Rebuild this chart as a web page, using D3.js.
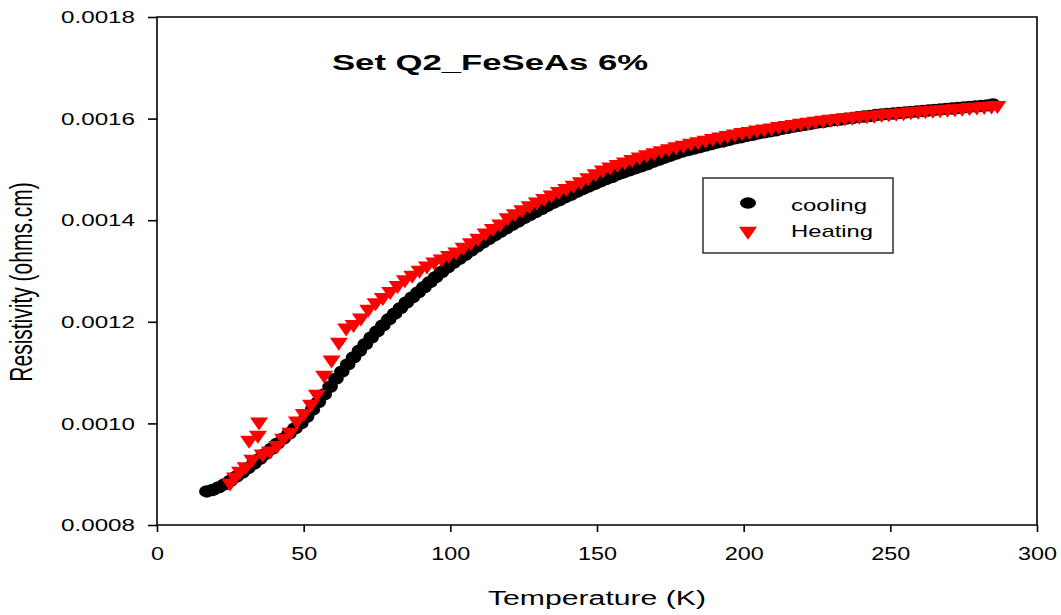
<!DOCTYPE html>
<html><head><meta charset="utf-8">
<script src="https://cdn.jsdelivr.net/npm/d3@7"></script>
<style>body{margin:0;background:#fff;}svg{display:block;font-family:"Liberation Sans",Arial,sans-serif;}</style>
</head><body>
<svg id="c" width="1061" height="615"></svg>
<script>
// ---- data (T in K, resistivity in ohms.cm) ----
const coolingT = [17,19,21,23,25,27,29,31,33,35,37,39,41,43,45,47,49,51,53,55,57,59,61,63,65,67,69,71,73,75,77,79,81,83,85,87,89,91,93,95,97,99,101,103,105,107,109,111,113,115,117,119,121,123,125,127,129,131,133,135,137,139,141,143,145,147,149,151,153,155,157,159,161,163,165,167,169,171,173,175,177,179,181,183,185,187,189,191,193,195,197,199,201,203,205,207,209,211,213,215,217,219,221,223,225,227,229,231,233,235,237,239,241,243,245,247,249,251,253,255,257,259,261,263,265,267,269,271,273,275,277,279,281,283,285];
const coolingR = [0.000866,0.000869,0.000874,0.000880,0.000887,0.000895,0.000903,0.000912,0.000921,0.000930,0.000940,0.000950,0.000960,0.000970,0.000980,0.000990,0.001000,0.001013,0.001027,0.001042,0.001057,0.001072,0.001088,0.001102,0.001116,0.001130,0.001143,0.001156,0.001169,0.001181,0.001193,0.001205,0.001216,0.001227,0.001238,0.001248,0.001258,0.001268,0.001278,0.001288,0.001298,0.001307,0.001316,0.001324,0.001332,0.001340,0.001348,0.001356,0.001363,0.001370,0.001377,0.001384,0.001391,0.001397,0.001404,0.001410,0.001416,0.001422,0.001428,0.001434,0.001439,0.001445,0.001450,0.001456,0.001461,0.001466,0.001471,0.001476,0.001481,0.001485,0.001490,0.001494,0.001498,0.001502,0.001506,0.001510,0.001515,0.001519,0.001523,0.001527,0.001531,0.001535,0.001538,0.001541,0.001544,0.001547,0.001550,0.001553,0.001555,0.001558,0.001561,0.001563,0.001566,0.001568,0.001571,0.001573,0.001575,0.001577,0.001580,0.001582,0.001584,0.001586,0.001588,0.001590,0.001592,0.001593,0.001595,0.001597,0.001598,0.001600,0.001601,0.001603,0.001604,0.001605,0.001607,0.001608,0.001609,0.001610,0.001611,0.001612,0.001613,0.001614,0.001615,0.001616,0.001617,0.001618,0.001619,0.001620,0.001621,0.001622,0.001623,0.001624,0.001625,0.001626,0.001628];
const heatingT = [24.9,26.6,28.3,30.2,31.4,32.5,34.4,34.8,36.0,38.5,41.0,43.0,45.4,47.7,50.0,52.5,54.5,57.0,59.5,62.0,64.5,67.0,69.5,72.0,74.5,77.0,79.5,82.0,84.5,87.0,89.5,92.0,94.5,97.0,99.5,102.0,104.5,107.0,109.5,112.0,114.5,117.0,119.5,122.0,124.5,127.0,129.5,132.0,134.5,137.0,139.5,142.0,144.5,147.0,149.5,152.0,154.5,157.0,159.5,162.0,164.5,167.0,169.5,172.0,174.5,177.0,179.5,182.0,184.5,187.0,189.5,192.0,194.5,197.0,199.5,202.0,204.5,207.0,209.5,212.0,214.5,217.0,219.5,222.0,224.5,227.0,229.5,232.0,234.5,237.0,239.5,242.0,244.5,247.0,249.5,252.0,254.5,257.0,259.5,262.0,264.5,267.0,269.5,272.0,274.5,277.0,279.5,282.0,284.5,286.5];
const heatingR = [0.000883,0.000895,0.000906,0.000915,0.000967,0.000930,0.000977,0.001003,0.000940,0.000946,0.000957,0.000971,0.000983,0.001005,0.001020,0.001038,0.001058,0.001095,0.001125,0.001160,0.001188,0.001195,0.001208,0.001225,0.001238,0.001248,0.001260,0.001272,0.001283,0.001292,0.001302,0.001310,0.001318,0.001324,0.001331,0.001338,0.001347,0.001356,0.001365,0.001375,0.001384,0.001393,0.001405,0.001413,0.001421,0.001429,0.001436,0.001443,0.001450,0.001457,0.001463,0.001469,0.001476,0.001484,0.001492,0.001499,0.001505,0.001510,0.001515,0.001520,0.001525,0.001529,0.001533,0.001537,0.001541,0.001545,0.001548,0.001552,0.001555,0.001558,0.001561,0.001564,0.001567,0.001570,0.001573,0.001575,0.001578,0.001580,0.001582,0.001585,0.001587,0.001589,0.001591,0.001593,0.001595,0.001597,0.001599,0.001600,0.001602,0.001603,0.001605,0.001606,0.001607,0.001609,0.001610,0.001611,0.001612,0.001614,0.001615,0.001616,0.001617,0.001618,0.001619,0.001620,0.001621,0.001622,0.001623,0.001624,0.001625,0.001626];
const xTicks = [0,50,100,150,200,250,300];
const yTicks = [0.0008,0.0010,0.0012,0.0014,0.0016,0.0018];
const yTickLabels = ["0.0008","0.0010","0.0012","0.0014","0.0016","0.0018"];
const seriesNames = ["cooling","Heating"];
const seriesColors = ["#000000","#ff0000"];
const titleText = "Set Q2_FeSeAs 6%";
const xLabel = "Temperature (K)";
const yLabel = "Resistivity (ohms.cm)";

// ---- layout ----
const L = 157, R = 1037, T = 17, B = 525;
const svg = d3.select("#c");
const x = d3.scaleLinear().domain([0,300]).range([L,R]);
const y = d3.scaleLinear().domain([0.0008,0.0018]).range([B,T]);

// frame
svg.append("path").attr("d",`M${L},${B}V${T}H${R}V${B}H${L}`).attr("fill","none").attr("stroke","#000").attr("stroke-width",1.6);

// axes
const gx = svg.append("g").attr("transform",`translate(0,${B})`)
  .call(d3.axisBottom(x).tickValues(xTicks).tickSize(7).tickPadding(0).tickFormat(d3.format("d")));
gx.select(".domain").remove();
gx.selectAll("line").attr("stroke","#000").attr("stroke-width",1.6);
gx.selectAll("text").attr("font-size",17.5).attr("fill","#000").attr("dy",null).attr("y",35)
  .attr("font-family","Liberation Sans, Arial, sans-serif")
  .each(function(d){ d3.select(this).attr("textLength", String(d).length*13).attr("lengthAdjust","spacingAndGlyphs"); });

const gy = svg.append("g").attr("transform",`translate(${L},0)`)
  .call(d3.axisLeft(y).tickValues(yTicks).tickSize(9).tickPadding(0).tickFormat((d,i)=>yTickLabels[i]));
gy.select(".domain").remove();
gy.selectAll("line").attr("stroke","#000").attr("stroke-width",1.6);
gy.selectAll("text").attr("font-size",16).attr("fill","#000").attr("x",-22).attr("dy","0.36em")
  .attr("font-family","Liberation Sans, Arial, sans-serif")
  .attr("textLength",74).attr("lengthAdjust","spacingAndGlyphs");

// data
const plot = svg.append("g");
const cooling = coolingT.map((t,i)=>({t, r: coolingR[i]}));
const heating = heatingT.map((t,i)=>({t, r: heatingR[i]}));
plot.selectAll("ellipse.c").data(cooling).enter().append("ellipse").attr("class","c")
  .attr("cx",d=>x(d.t)).attr("cy",d=>y(d.r)).attr("rx",7.8).attr("ry",6.2).attr("fill",seriesColors[0]);
const tri = "M-9,-4.3L9,-4.3L0,8.7Z";
plot.selectAll("path.h").data(heating).enter().append("path").attr("class","h")
  .attr("d",tri).attr("transform",d=>`translate(${x(d.t)},${y(d.r)})`).attr("fill",seriesColors[1]);

// title
svg.append("text").attr("x",332).attr("y",70).attr("font-size",22).attr("font-weight","bold")
  .attr("textLength",316).attr("lengthAdjust","spacingAndGlyphs").text(titleText);

// axis labels
svg.append("text").attr("x",597).attr("y",605).attr("text-anchor","middle").attr("font-size",20)
  .attr("textLength",218).attr("lengthAdjust","spacingAndGlyphs").text(xLabel);
svg.append("text").attr("transform","translate(32,282) scale(1.45,1) rotate(-90)")
  .attr("text-anchor","middle").attr("font-size",21).text(yLabel);

// legend
const lg = svg.append("g");
lg.append("rect").attr("x",703).attr("y",178).attr("width",190).attr("height",75)
  .attr("fill","#fff").attr("stroke","#222").attr("stroke-width",1.4);
lg.append("ellipse").attr("cx",748).attr("cy",203).attr("rx",8).attr("ry",5.8).attr("fill",seriesColors[0]);
lg.append("path").attr("d",tri).attr("transform","translate(748,231)").attr("fill",seriesColors[1]);
lg.append("text").attr("x",791).attr("y",211).attr("font-size",17).attr("textLength",76)
  .attr("lengthAdjust","spacingAndGlyphs").text(seriesNames[0]);
lg.append("text").attr("x",791).attr("y",237).attr("font-size",17).attr("textLength",82)
  .attr("lengthAdjust","spacingAndGlyphs").text(seriesNames[1]);
</script>
</body></html>
